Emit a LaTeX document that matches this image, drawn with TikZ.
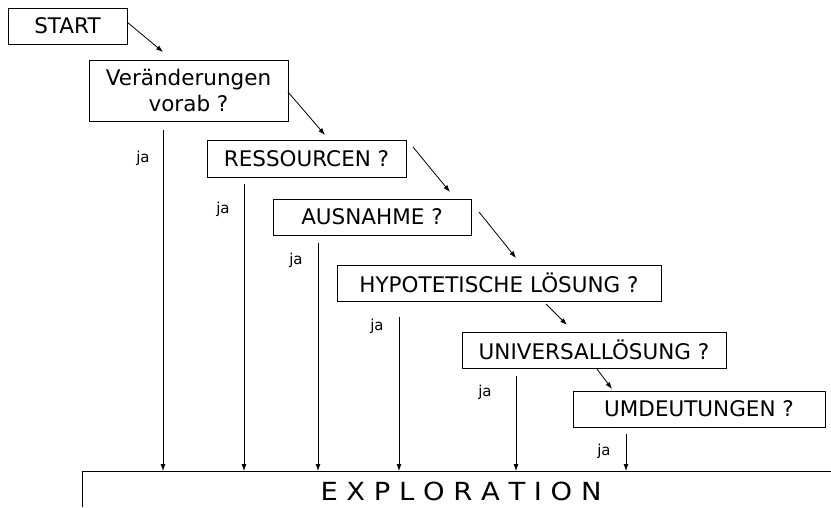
\documentclass[tikz,border=0pt]{standalone}
\usepackage{fontspec}
\setmainfont{DejaVu Sans}
\newfontfamily\explfont[FakeStretch=0.75]{DejaVu Sans}
\usetikzlibrary{arrows.meta}
\tikzset{
  box/.style={draw, line width=0.9pt, inner sep=0pt, align=center, font=\fontsize{21.5}{26}\selectfont},
  arr/.style={line width=0.8pt, -{Latex[length=7pt,width=5pt]}},
  jalabel/.style={inner sep=0pt, font=\fontsize{15}{18}\selectfont}
}
\begin{document}
\begin{tikzpicture}[x=1pt,y=-1pt]
\useasboundingbox (0,0) rectangle (831,507);
% boxes
\node[box, minimum width=119pt, minimum height=36pt] (start) at (67.5,26) {START};
\node[box, minimum width=199pt, minimum height=61pt] (ver) at (188.5,90.5) {Veränderungen\\vorab ?};
\node[box, minimum width=199pt, minimum height=37pt] (res) at (306.5,158.5) {RESSOURCEN ?};
\node[box, minimum width=198pt, minimum height=36pt] (aus) at (372,217) {AUSNAHME ?};
\node[box, minimum width=324pt, minimum height=36pt] (hyp) at (499,283) {HYPOTETISCHE LÖSUNG ?};
\node[box, minimum width=264pt, minimum height=36pt] (uni) at (594,350) {UNIVERSALLÖSUNG ?};
\node[box, minimum width=252pt, minimum height=36pt] (umd) at (699,409) {UMDEUTUNGEN ?};
% exploration
\coordinate (exl) at (82,471);
\draw[line width=0.9pt] (82,507) -- (exl) -- (831,471);
\node[inner sep=0pt] (expl) at (461,491) {\resizebox{281pt}{18.5pt}{\explfont E X P L O R A T I O N}};
% diagonal arrows
\coordinate (d1s) at (127,22);  \coordinate (d1e) at (163,52);
\coordinate (d2s) at (288,92);  \coordinate (d2e) at (325,135);
\coordinate (d3s) at (413,147); \coordinate (d3e) at (450,192);
\coordinate (d4s) at (479,212); \coordinate (d4e) at (516,258);
\coordinate (d5s) at (546,304); \coordinate (d5e) at (567,325);
\coordinate (d6s) at (597,369); \coordinate (d6e) at (612,389);
\draw[arr] (d1s) -- (d1e);
\draw[arr] (d2s) -- (d2e);
\draw[arr] (d3s) -- (d3e);
\draw[arr] (d4s) -- (d4e);
\draw[arr] (d5s) -- (d5e);
\draw[arr] (d6s) -- (d6e);
% ja arrows
\coordinate (j1) at (163,130);
\coordinate (j2) at (244,184);
\coordinate (j3) at (318,243);
\coordinate (j4) at (399,317);
\coordinate (j5) at (516,376);
\coordinate (j6) at (626,434);
\foreach \j in {j1,j2,j3,j4,j5,j6}{
  \draw[arr] (\j) -- (\j |- exl);
}
\node[jalabel] (ja1) at (143,158) {ja};
\node[jalabel] (ja2) at (223,209) {ja};
\node[jalabel] (ja3) at (296,260) {ja};
\node[jalabel] (ja4) at (377,326) {ja};
\node[jalabel] (ja5) at (485,392) {ja};
\node[jalabel] (ja6) at (604,451) {ja};
\end{tikzpicture}
\end{document}
